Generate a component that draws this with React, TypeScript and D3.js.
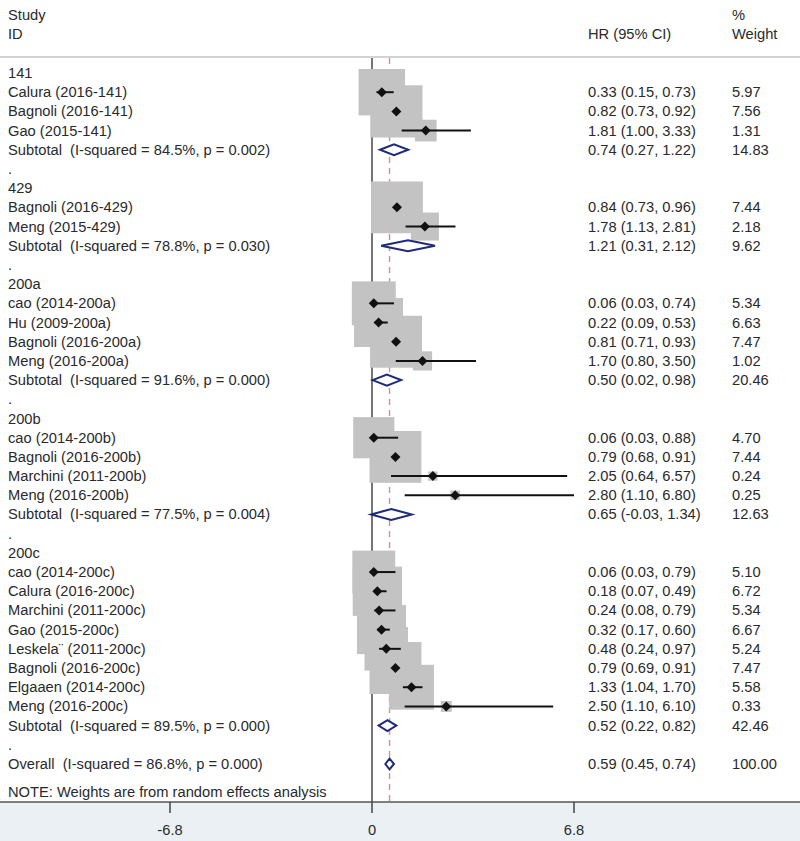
import React from "react";
import * as d3 from "d3";

// ---- data ----
const rowKinds = [
  "group", "study", "study", "study", "subtotal", "spacer",
  "group", "study", "study", "subtotal", "spacer",
  "group", "study", "study", "study", "study", "subtotal", "spacer",
  "group", "study", "study", "study", "study", "subtotal", "spacer",
  "group", "study", "study", "study", "study", "study", "study", "study", "study", "subtotal", "spacer",
  "overall",
];
const rowLabels = [
  "141", "Calura (2016-141)", "Bagnoli (2016-141)", "Gao (2015-141)", "Subtotal  (I-squared = 84.5%, p = 0.002)", ".",
  "429", "Bagnoli (2016-429)", "Meng (2015-429)", "Subtotal  (I-squared = 78.8%, p = 0.030)", ".",
  "200a", "cao (2014-200a)", "Hu (2009-200a)", "Bagnoli (2016-200a)", "Meng (2016-200a)", "Subtotal  (I-squared = 91.6%, p = 0.000)", ".",
  "200b", "cao (2014-200b)", "Bagnoli (2016-200b)", "Marchini (2011-200b)", "Meng (2016-200b)", "Subtotal  (I-squared = 77.5%, p = 0.004)", ".",
  "200c", "cao (2014-200c)", "Calura (2016-200c)", "Marchini (2011-200c)", "Gao (2015-200c)", "Leskela\u00A8 (2011-200c)", "Bagnoli (2016-200c)", "Elgaaen (2014-200c)", "Meng (2016-200c)", "Subtotal  (I-squared = 89.5%, p = 0.000)", ".",
  "Overall  (I-squared = 86.8%, p = 0.000)",
];
const hrValues: (number | null)[] = [
  null, 0.33, 0.82, 1.81, 0.74, null,
  null, 0.84, 1.78, 1.21, null,
  null, 0.06, 0.22, 0.81, 1.70, 0.50, null,
  null, 0.06, 0.79, 2.05, 2.80, 0.65, null,
  null, 0.06, 0.18, 0.24, 0.32, 0.48, 0.79, 1.33, 2.50, 0.52, null,
  0.59,
];
const ciLow: (number | null)[] = [
  null, 0.15, 0.73, 1.00, 0.27, null,
  null, 0.73, 1.13, 0.31, null,
  null, 0.03, 0.09, 0.71, 0.80, 0.02, null,
  null, 0.03, 0.68, 0.64, 1.10, -0.03, null,
  null, 0.03, 0.07, 0.08, 0.17, 0.24, 0.69, 1.04, 1.10, 0.22, null,
  0.45,
];
const ciHigh: (number | null)[] = [
  null, 0.73, 0.92, 3.33, 1.22, null,
  null, 0.96, 2.81, 2.12, null,
  null, 0.74, 0.53, 0.93, 3.50, 0.98, null,
  null, 0.88, 0.91, 6.57, 6.80, 1.34, null,
  null, 0.79, 0.49, 0.79, 0.60, 0.97, 0.91, 1.70, 6.10, 0.82, null,
  0.74,
];
const weights: (number | null)[] = [
  null, 5.97, 7.56, 1.31, 14.83, null,
  null, 7.44, 2.18, 9.62, null,
  null, 5.34, 6.63, 7.47, 1.02, 20.46, null,
  null, 4.70, 7.44, 0.24, 0.25, 12.63, null,
  null, 5.10, 6.72, 5.34, 6.67, 5.24, 7.47, 5.58, 0.33, 42.46, null,
  100.0,
];
const axisTicks = [-6.8, 0, 6.8];
const axisTickLabels = ["-6.8", "0", "6.8"];
const overallEffect = 0.59;

const W = 800;
const H = 841;
const FONT = "'Liberation Sans', Arial, sans-serif";
const TEXT = "#2a2a2a";

export default function App() {
  const x = d3.scaleLinear().domain([-6.8, 6.8]).range([170, 574]);
  const y = d3.scaleLinear().domain([0, rowLabels.length - 1]).range([73, 764]);
  const boxSide = (w: number) => 19 * Math.sqrt(w);
  const fmt = (v: number) => v.toFixed(2);
  const lineTop = 58;
  const axisY = 802;
  const fs = 14.7;

  const idx = d3.range(rowLabels.length);

  return (
    <svg
      width={W}
      height={H}
      style={{ position: "absolute", left: 0, top: 0, background: "#fff" }}
      fontFamily={FONT}
    >
      <rect x={0} y={axisY} width={W} height={H - axisY} fill="#ebf0f5" />
      {/* header */}
      <g fontSize={fs} fill={TEXT}>
        <text x={8} y={20}>Study</text>
        <text x={8} y={39}>ID</text>
        <text x={588} y={39}>HR (95% CI)</text>
        <text x={732} y={20}>%</text>
        <text x={732} y={39}>Weight</text>
      </g>
      <line x1={0} x2={W} y1={57} y2={57} stroke="#c4c4c4" strokeWidth={1.5} />

      {/* reference lines */}
      <line x1={x(0)} x2={x(0)} y1={lineTop} y2={axisY} stroke="#3a3a3a" strokeWidth={1.4} />
      <line
        x1={x(overallEffect)}
        x2={x(overallEffect)}
        y1={lineTop}
        y2={axisY}
        stroke="#d98c8f"
        strokeWidth={1.4}
        strokeDasharray="6,5"
      />

      {/* weight boxes */}
      {idx.map((i) => {
        if (rowKinds[i] !== "study") return null;
        const s = boxSide(weights[i] as number);
        return (
          <rect
            key={"b" + i}
            x={x(hrValues[i] as number) - s / 2}
            y={y(i) - s / 2}
            width={s}
            height={s}
            fill="#c3c3c3"
          />
        );
      })}

      {/* CI lines and point markers */}
      {idx.map((i) => {
        if (rowKinds[i] !== "study") return null;
        const cx = x(hrValues[i] as number);
        const cy = y(i);
        const r = 5;
        return (
          <g key={"c" + i}>
            <line
              x1={x(ciLow[i] as number)}
              x2={x(ciHigh[i] as number)}
              y1={cy}
              y2={cy}
              stroke="#111"
              strokeWidth={2}
            />
            <path
              d={`M${cx - r},${cy}L${cx},${cy - r}L${cx + r},${cy}L${cx},${cy + r}Z`}
              fill="#111"
            />
          </g>
        );
      })}

      {/* pooled diamonds */}
      {idx.map((i) => {
        if (rowKinds[i] !== "subtotal" && rowKinds[i] !== "overall") return null;
        const cy = y(i);
        const h = 5.5;
        const l = x(ciLow[i] as number);
        const rr = x(ciHigh[i] as number);
        const c = x(hrValues[i] as number);
        return (
          <path
            key={"d" + i}
            d={`M${l},${cy}L${c},${cy - h}L${rr},${cy}L${c},${cy + h}Z`}
            fill="#fff"
            stroke="#1f2a7a"
            strokeWidth={2}
          />
        );
      })}

      {/* texts */}
      <g fontSize={fs} fill={TEXT} style={{ whiteSpace: "pre" }}>
        {idx.map((i) => (
          <text key={"l" + i} x={8} y={y(i) + 5} xmlSpace="preserve">
            {rowLabels[i]}
          </text>
        ))}
        {idx.map((i) =>
          hrValues[i] === null ? null : (
            <text key={"h" + i} x={588} y={y(i) + 5}>
              {`${fmt(hrValues[i] as number)} (${fmt(ciLow[i] as number)}, ${fmt(ciHigh[i] as number)})`}
            </text>
          )
        )}
        {idx.map((i) =>
          weights[i] === null ? null : (
            <text key={"w" + i} x={732} y={y(i) + 5}>
              {fmt(weights[i] as number)}
            </text>
          )
        )}
        <text x={8} y={797}>NOTE: Weights are from random effects analysis</text>
      </g>

      {/* axis */}
      <line x1={0} x2={W} y1={axisY} y2={axisY} stroke="#555" strokeWidth={1.5} />
      {axisTicks.map((t, k) => (
        <g key={"t" + k}>
          <line x1={x(t)} x2={x(t)} y1={axisY} y2={axisY + 11} stroke="#444" strokeWidth={1.5} />
          <text x={x(t)} y={835} textAnchor="middle" fontSize={fs} fill={TEXT}>
            {axisTickLabels[k]}
          </text>
        </g>
      ))}
    </svg>
  );
}
